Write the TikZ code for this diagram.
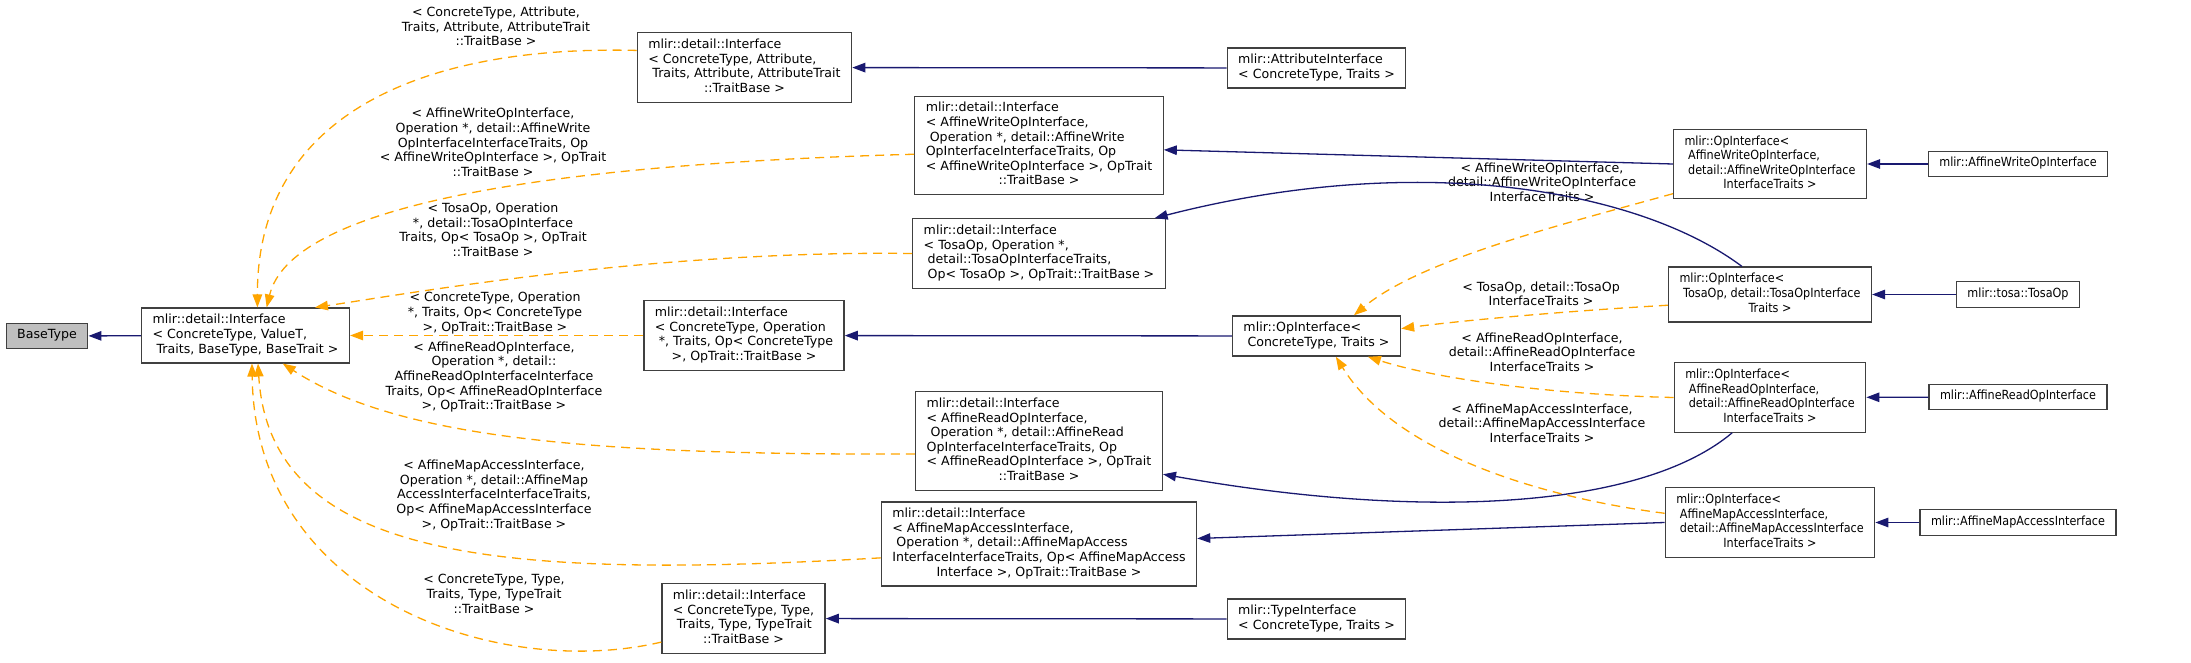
\documentclass[tikz,border=0pt]{standalone}
\usepackage{fontspec}
\setmainfont{DejaVu Sans}
\newfontfamily\narrowfont[FakeStretch=0.89]{DejaVu Sans}
\usetikzlibrary{arrows.meta}
\definecolor{inhblue}{HTML}{191970}
\definecolor{tplorange}{HTML}{FFA500}
\definecolor{nodeline}{HTML}{404040}
\definecolor{nodegray}{HTML}{BFBFBF}
\newcommand{\gfont}{\fontsize{12.6}{14.6}\selectfont}
% left-aligned lines / left-aligned lines plus a centred last line
\newcommand{\tll}[1]{\begin{tabular}{@{}l@{}}#1\end{tabular}}
\newcommand{\tlc}[2]{\begin{tabular}{@{}l@{}}#1\\\multicolumn{1}{@{}c@{}}{#2}\end{tabular}}
\tikzset{
  cls/.style={draw=nodeline, fill=white, line width=1.3pt, inner xsep=11pt,
              inner ysep=5.5pt, font=\gfont},
  ncls/.style={cls, font=\narrowfont\gfont},
  cur/.style={cls, fill=nodegray},
  lbl/.style={align=center, inner sep=0pt, font=\gfont},
  inh/.style={-{Triangle[length=13pt, width=9.5pt]}, line width=1.3pt, draw=inhblue},
  tpl/.style={-{Triangle[length=13pt, width=9.5pt]}, line width=1.3pt, draw=tplorange,
              dash pattern=on 9pt off 6pt},
}

\begin{document}
\begin{tikzpicture}[x=1pt, y=-1pt]
  \useasboundingbox (0,0) rectangle (2191,663);
  % classes
  \node[cur] (bt) at (47,336) {\tll{BaseType}};
  \node[cls] (ifc) at (245.5,335.5) {\tlc{mlir::detail::Interface\\< ConcreteType, ValueT,}{\ Traits, BaseType, BaseTrait >}};
  \node[cls] (ia) at (744.5,67.5) {\tlc{mlir::detail::Interface\\< ConcreteType, Attribute,\\\ Traits, Attribute, AttributeTrait}{::TraitBase >}};
  \node[cls] (io) at (744,335.5) {\tlc{mlir::detail::Interface\\< ConcreteType, Operation\\\ *, Traits, Op< ConcreteType}{>, OpTrait::TraitBase >}};
  \node[cls] (ity) at (743.5,618.5) {\tlc{mlir::detail::Interface\\< ConcreteType, Type,\\\ Traits, Type, TypeTrait}{::TraitBase >}};
  \node[cls] (iw) at (1039,145.5) {\tlc{mlir::detail::Interface\\< AffineWriteOpInterface,\\\ Operation *, detail::AffineWrite\\OpInterfaceInterfaceTraits, Op\\< AffineWriteOpInterface >, OpTrait}{::TraitBase >}};
  \node[cls] (it) at (1039,253.5) {\tlc{mlir::detail::Interface\\< TosaOp, Operation *,\\\ detail::TosaOpInterfaceTraits,}{\ Op< TosaOp >, OpTrait::TraitBase >}};
  \node[cls] (ir) at (1039,441) {\tlc{mlir::detail::Interface\\< AffineReadOpInterface,\\\ Operation *, detail::AffineRead\\OpInterfaceInterfaceTraits, Op\\< AffineReadOpInterface >, OpTrait}{::TraitBase >}};
  \node[cls] (im) at (1039,544) {\tlc{mlir::detail::Interface\\< AffineMapAccessInterface,\\\ Operation *, detail::AffineMapAccess\\InterfaceInterfaceTraits, Op< AffineMapAccess}{Interface >, OpTrait::TraitBase >}};
  \node[cls] (ai) at (1316.5,68) {\tll{mlir::AttributeInterface\\< ConcreteType, Traits >}};
  \node[cls] (oi) at (1316.5,336) {\tlc{mlir::OpInterface<}{\ ConcreteType, Traits >}};
  \node[cls] (ti) at (1316.5,619) {\tll{mlir::TypeInterface\\< ConcreteType, Traits >}};
  \node[ncls] (ow) at (1770,164) {\tlc{mlir::OpInterface<\\\ AffineWriteOpInterface,\\\ detail::AffineWriteOpInterface}{InterfaceTraits >}};
  \node[ncls] (ot) at (1770,294.5) {\tlc{mlir::OpInterface<\\\ TosaOp, detail::TosaOpInterface}{Traits >}};
  \node[ncls] (orr) at (1770,397.5) {\tlc{mlir::OpInterface<\\\ AffineReadOpInterface,\\\ detail::AffineReadOpInterface}{InterfaceTraits >}};
  \node[ncls] (om) at (1770,522.5) {\tlc{mlir::OpInterface<\\\ AffineMapAccessInterface,\\\ detail::AffineMapAccessInterface}{InterfaceTraits >}};
  \node[ncls] (aw) at (2018,164) {\tll{mlir::AffineWriteOpInterface}};
  \node[ncls] (tosa) at (2018,294.5) {\tll{mlir::tosa::TosaOp}};
  \node[ncls] (ar) at (2018,397) {\tll{mlir::AffineReadOpInterface}};
  \node[ncls] (am) at (2018,522.5) {\tll{mlir::AffineMapAccessInterface}};

  % template arguments
  \node[lbl] (la) at (496,26.5) {< ConcreteType, Attribute,\\Traits, Attribute, AttributeTrait\\::TraitBase >};
  \node[lbl] (lw) at (493,142.5) {< AffineWriteOpInterface,\\Operation *, detail::AffineWrite\\OpInterfaceInterfaceTraits, Op\\< AffineWriteOpInterface >, OpTrait\\::TraitBase >};
  \node[lbl] (lt) at (493,230) {< TosaOp, Operation\\{}*, detail::TosaOpInterface\\Traits, Op< TosaOp >, OpTrait\\::TraitBase >};
  \node[lbl] (lo) at (495,313) {< ConcreteType, Operation\\{}*, Traits, Op< ConcreteType\\>, OpTrait::TraitBase >};
  \node[lbl] (lr) at (494,377) {< AffineReadOpInterface,\\Operation *, detail::\\AffineReadOpInterfaceInterface\\Traits, Op< AffineReadOpInterface\\>, OpTrait::TraitBase >};
  \node[lbl] (lm) at (494,495.5) {< AffineMapAccessInterface,\\Operation *, detail::AffineMap\\AccessInterfaceInterfaceTraits,\\Op< AffineMapAccessInterface\\>, OpTrait::TraitBase >};
  \node[lbl] (lty) at (494,594) {< ConcreteType, Type,\\Traits, Type, TypeTrait\\::TraitBase >};
  \node[lbl] (low) at (1542,182) {< AffineWriteOpInterface,\\detail::AffineWriteOpInterface\\InterfaceTraits >};
  \node[lbl] (lot) at (1541,294) {< TosaOp, detail::TosaOp\\InterfaceTraits >};
  \node[lbl] (lor) at (1542,352) {< AffineReadOpInterface,\\detail::AffineReadOpInterface\\InterfaceTraits >};
  \node[lbl] (lom) at (1542,423) {< AffineMapAccessInterface,\\detail::AffineMapAccessInterface\\InterfaceTraits >};

  % inheritance
  \draw[inh] (ifc) -- (bt);
  \draw[inh] (ai) -- (ia);
  \draw[inh] (oi) -- (io);
  \draw[inh] (ti) -- (ity);
  \draw[inh] (ow.west) -- (iw.-2);
  \draw[inh] (ot.135) .. controls (1640,190) and (1420,150) .. (it.17);
  \draw[inh] (orr.223) .. controls (1640,510) and (1420,520) .. (ir.-15);
  \draw[inh] (om.west) -- (im.2);
  \draw[inh] (aw) -- (ow);
  \draw[inh] (tosa) -- (ot);
  \draw[inh] (ar) -- (orr);
  \draw[inh] (am) -- (om);

  % template instances
  \draw[tpl] (ia.171) .. controls (430,45) and (257,110) .. (ifc.67);
  \draw[tpl] (iw.184) .. controls (520,165) and (290,210) .. (ifc.53);
  \draw[tpl] (it.west) .. controls (650,250) and (400,295) .. (ifc.22);
  \draw[tpl] (io) -- (ifc);
  \draw[tpl] (ir.186) .. controls (600,455) and (400,440) .. (ifc.-37);
  \draw[tpl] (im.185) .. controls (500,580) and (270,560) .. (ifc.-66);
  \draw[tpl] (ity.196) .. controls (500,680) and (255,600) .. (ifc.-77);
  \draw[tpl] (ow.197) .. controls (1560,225) and (1420,260) .. (oi.29);
  \draw[tpl] (ot.186) .. controls (1550,312) and (1450,322) .. (oi.5);
  \draw[tpl] (orr.west) .. controls (1560,395) and (1440,380) .. (oi.-22);
  \draw[tpl] (om.175) .. controls (1560,500) and (1400,460) .. (oi.-47);
\end{tikzpicture}
\end{document}
